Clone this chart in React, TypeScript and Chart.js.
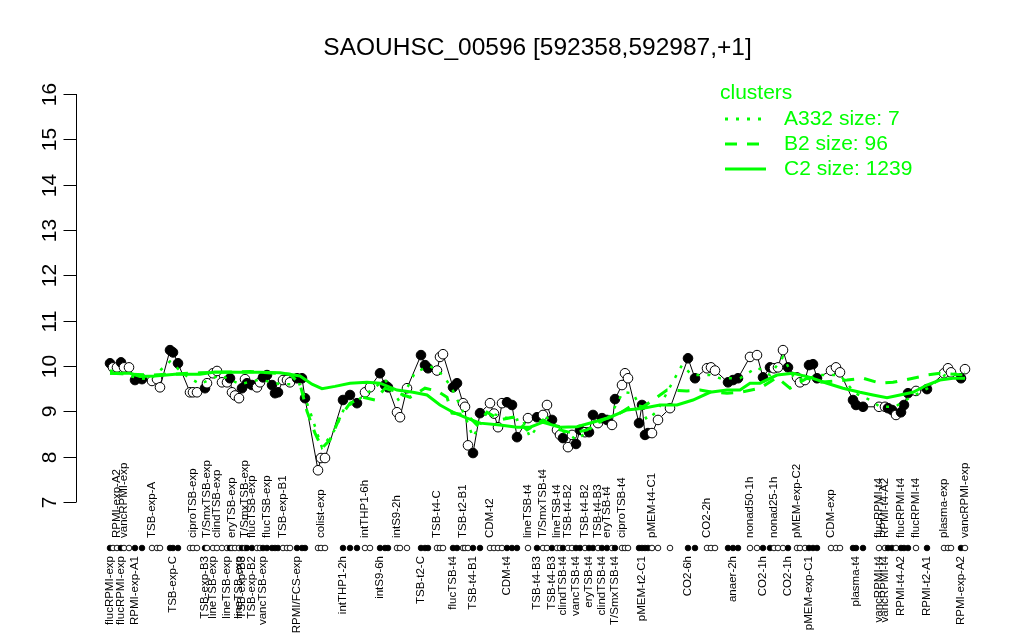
import React, { useEffect, useRef } from 'react';
import { Chart, registerables } from 'chart.js';

Chart.register(...registerables);

const TITLE = 'SAOUHSC_00596 [592358,592987,+1]';
const FONT = '"Liberation Sans", Arial, Helvetica, sans-serif';
const GREEN = '#00ff00';

// sample order (position along the x axis), grouped by condition
const positions: number[] = [
  10, 13, 17, 21, 24, 29, 35, 42,
  52, 57, 60,
  70, 73, 78,
  90, 93, 97,
  105, 107, 113, 117, 122, 127, 130, 132, 135, 139, 142, 145, 147, 152, 157, 160, 163, 167, 172, 175, 178, 183, 187, 190,
  197, 202, 205,
  218, 221, 225,
  243, 250, 257,
  265, 270,
  280, 285, 288,
  297, 300, 307,
  321, 325, 328,
  337, 340, 343,
  353, 357, 363, 365, 368, 373, 380,
  390, 394, 398, 402, 407, 412, 417,
  428, 437, 443, 447, 452, 457, 460, 463, 468, 472, 476, 480, 485, 489, 493, 498, 502, 507, 512, 515, 522, 525, 528,
  539, 542, 545, 548, 552, 558, 570,
  588, 595,
  607, 611, 615,
  628, 633, 638,
  650, 657,
  663, 670, 674, 678, 683, 688,
  697, 700, 705, 709, 713, 717,
  731, 736, 740,
  753, 756, 763,
  779, 785, 788, 792, 796, 801, 804, 808, 816,
  827,
  844, 848, 851,
  861, 865,
];

const expression: number[] = [
  10.06, 9.97, 9.97, 10.08, 9.97, 9.97, 9.69, 9.71,
  9.67, 9.71, 9.53,
  10.35, 10.3, 10.06,
  9.42, 9.42, 9.42,
  9.51, 9.62, 9.84, 9.89, 9.64, 9.64, 9.73, 9.42, 9.35, 9.29, 9.51, 9.71, 9.62, 9.58, 9.53, 9.64, 9.75, 9.8, 9.58, 9.4, 9.42, 9.69, 9.69, 9.64,
  9.73, 9.73, 9.29,
  7.7, 7.97, 7.97,
  9.25, 9.36, 9.18,
  9.42, 9.53,
  9.84, 9.58, 9.53,
  8.98, 8.87, 9.51,
  10.24, 10.02, 9.95,
  9.9, 10.2, 10.26,
  9.53, 9.62, 9.18, 9.1, 8.25, 8.08, 8.96,
  9.18, 8.95, 8.65, 9.18, 9.2, 9.14, 8.43,
  8.85, 8.87, 8.92, 9.14, 8.81, 8.59, 8.48, 8.41, 8.21, 8.48, 8.28, 8.59, 8.54, 8.54, 8.92, 8.74, 8.85, 8.81, 8.7, 9.27, 9.58, 9.84, 9.73,
  8.74, 9.14, 8.48, 8.52, 8.52, 8.81, 9.07,
  10.17, 9.73,
  9.95, 9.97, 9.9,
  9.64, 9.69, 9.73,
  10.2, 10.24,
  9.75, 9.97, 9.95, 9.97, 10.35, 9.97,
  9.75, 9.64, 9.69, 10.02, 10.04, 9.73,
  9.9, 9.97, 9.86,
  9.25, 9.14, 9.1,
  9.1, 9.1, 9.07, 9.03, 8.92, 8.98, 9.14, 9.4, 9.45,
  9.49,
  9.84, 9.95, 9.86,
  9.73, 9.93,
];

const filled: number[] = [
  1, 0, 0, 1, 0, 0, 1, 1,
  0, 0, 0,
  1, 1, 1,
  0, 0, 0,
  1, 0, 0, 0, 0, 0, 1, 0, 0, 0, 1, 0, 1, 1, 0, 0, 1, 1, 1, 1, 1, 0, 0, 0,
  1, 1, 1,
  0, 0, 0,
  1, 1, 1,
  0, 0,
  1, 1, 1,
  0, 0, 0,
  1, 1, 1,
  0, 0, 0,
  1, 1, 0, 0, 0, 1, 1,
  0, 0, 0, 0, 1, 1, 1,
  0, 1, 0, 0, 1, 0, 0, 1, 0, 0, 1, 1, 0, 1, 1, 0, 1, 1, 0, 1, 0, 0, 0,
  1, 1, 1, 1, 0, 0, 0,
  1, 1,
  0, 0, 0,
  1, 1, 1,
  0, 0,
  1, 1, 0, 0, 0, 1,
  0, 0, 0, 1, 1, 1,
  0, 0, 0,
  1, 1, 1,
  0, 0, 1, 1, 0, 1, 1, 1, 0,
  1,
  0, 0, 0,
  1, 0,
];

const topLabels: string[] = [
  '', '', 'RPMI-exp-A2', '', 'vancRPMI-exp', '', '', '',
  'TSB-exp-A', '', '',
  '', '', '',
  '', 'ciproTSB-exp', '',
  '', 'T/SmxTSB-exp', '', 'clindTSB-exp', '', '', '', 'eryTSB-exp', '', '', '', 'T/SmxTSB-exp', '', 'flucTSB-exp', '', '', '', 'flucTSB-exp', '', '', '', 'TSB-exp-B1', '', '',
  '', '', '',
  '', 'colist-exp', '',
  '', '', '',
  'intTHP1-6h', '',
  '', '', '',
  'intS9-2h', '', '',
  '', '', '',
  'TSB-t4-C', '', '',
  '', '', 'TSB-t2-B1', '', '', '', '',
  'CDM-t2', '', '', '', '', '', '',
  'lineTSB-t4', '', 'T/SmxTSB-t4', '', '', 'lineTSB-t4', '', '', 'TSB-t4-B2', '', '', '', 'TSB-t4-B2', '', '', 'TSB-t4-B3', '', 'eryTSB-t4', '', '', 'ciproTSB-t4', '', '',
  '', '', '', '', 'pMEM-t4-C1', '', '',
  '', '',
  'CO2-2h', '', '',
  '', '', '',
  'nonad50-1h', '',
  '', '', 'nonad25-1h', '', '', '',
  'pMEM-exp-C2', '', '', '', '', '',
  'CDM-exp', '', '',
  '', '', '',
  'flucRPMI-t4', 'RPMI-t4-A2', '', '', '', 'flucRPMI-t4', '', '', 'flucRPMI-t4',
  '',
  'plasma-exp', '', '',
  '', 'vancRPMI-exp',
];

const bottomLabels: string[] = [
  'flucRPMI-exp', '', '', 'flucRPMI-exp', '', '', 'RPMI-exp-A1', '',
  '', '', '',
  '', 'TSB-exp-C', '',
  '', '', '',
  'TSB-exp-B3', '', 'lineTSB-exp', '', '', 'lineTSB-exp', '', '', '', 'lineTSB-exp', 'TSB-exp-B3', '', '', 'TSB-exp-B2', '', '', 'vancTSB-exp', '', '', '', '', '', '', '',
  'RPMI/FCS-exp', '', '',
  '', '', '',
  'intTHP1-2h', '', '',
  '', '',
  'intS9-6h', '', '',
  '', '', '',
  'TSB-t2-C', '', '',
  '', '', '',
  'flucTSB-t4', '', '', '', '', 'TSB-t4-B1', '',
  '', '', '', '', 'CDM-t4', '', '',
  '', 'TSB-t4-B3', '', '', 'TSB-t4-B3', '', '', 'clindTSB-t4', '', '', 'vancTSB-t4', '', '', 'eryTSB-t4', '', '', 'clindTSB-t4', '', '', 'T/SmxTSB-t4', '', '', '',
  '', 'pMEM-t2-C1', '', '', '', '', '',
  'CO2-6h', '',
  '', '', '',
  '', 'anaer-2h', '',
  '', '',
  'CO2-1h', '', '', '', '', 'CO2-1h',
  '', '', '', 'pMEM-exp-C1', '', '',
  '', '', '',
  '', 'plasma-t4', '',
  'vancRPMI-t4', 'vancRPMI-t4', '', '', '', 'RPMI-t4-A2', '', '', '',
  'RPMI-t2-A1',
  '', '', '',
  'RPMI-exp-A2', '',
];

// cluster mean profiles
const a332Pos: number[] = [10, 35, 50, 70, 85, 100, 120, 140, 160, 180, 200, 210, 222, 235, 245, 255, 270, 285, 300, 315, 330, 343, 352, 365, 373, 387, 400, 415, 422, 430, 445, 460, 477, 495, 510, 523, 533, 547, 557, 572, 582, 592, 610, 620, 640, 657, 670, 683, 695, 708, 720, 740, 755, 770, 780, 795, 810, 827, 845, 865];
const a332Val: number[] = [9.9, 9.75, 9.7, 10.1, 9.8, 9.6, 9.8, 9.6, 9.7, 9.6, 9.6, 9.0, 8.2, 8.6, 9.1, 9.2, 9.45, 9.7, 9.2, 9.86, 10.0, 9.8, 9.5, 8.9, 8.43, 8.98, 8.9, 8.8, 8.85, 8.43, 8.9, 8.6, 8.37, 8.7, 8.9, 9.42, 9.4, 8.81, 9.0, 9.62, 10.02, 9.8, 9.8, 9.73, 9.73, 9.97, 9.8, 10.2, 9.7, 9.73, 9.8, 9.8, 9.4, 9.25, 9.1, 9.1, 9.3, 9.5, 9.8, 9.85];

const b2Pos: number[] = [10, 50, 100, 150, 190, 200, 207, 215, 222, 230, 240, 250, 263, 275, 285, 310, 325, 337, 347, 352, 367, 377, 387, 400, 413, 427, 443, 460, 473, 487, 503, 517, 533, 543, 553, 567, 587, 600, 613, 627, 640, 660, 677, 690, 707, 720, 747, 763, 780, 793, 813, 827, 840, 865];
const b2Val: number[] = [9.84, 9.8, 9.85, 9.88, 9.82, 9.6, 9.0, 8.52, 8.19, 8.37, 8.87, 9.18, 9.31, 9.25, 9.51, 9.31, 9.51, 9.45, 9.31, 8.96, 8.92, 8.7, 8.98, 8.81, 8.87, 8.59, 8.81, 8.59, 8.52, 8.59, 8.81, 8.92, 9.14, 9.1, 9.25, 9.47, 9.45, 9.47, 9.42, 9.4, 9.42, 9.51, 9.75, 9.51, 9.73, 9.64, 9.69, 9.73, 9.62, 9.64, 9.73, 9.8, 9.84, 9.8];

const c2Pos: number[] = [10, 30, 40, 55, 75, 100, 115, 140, 160, 180, 200, 212, 222, 235, 250, 267, 280, 297, 313, 327, 340, 353, 367, 380, 400, 417, 430, 443, 460, 477, 493, 510, 527, 543, 560, 577, 593, 610, 627, 640, 650, 660, 677, 693, 710, 727, 743, 760, 773, 787, 800, 813, 827, 840, 853, 865];
const c2Val: number[] = [9.84, 9.84, 9.77, 9.78, 9.82, 9.82, 9.87, 9.86, 9.86, 9.85, 9.78, 9.6, 9.5, 9.55, 9.62, 9.64, 9.62, 9.47, 9.42, 9.36, 9.14, 8.98, 8.85, 8.74, 8.7, 8.65, 8.65, 8.76, 8.65, 8.66, 8.76, 8.87, 9.03, 9.07, 9.14, 9.14, 9.25, 9.42, 9.47, 9.47, 9.62, 9.62, 9.8, 9.84, 9.75, 9.62, 9.51, 9.42, 9.36, 9.3, 9.36, 9.42, 9.58, 9.69, 9.73, 9.73];

const yTicks: number[] = [7, 8, 9, 10, 11, 12, 13, 14, 15, 16];

const legendItems = [
  { label: 'A332 size: 7', dash: [3, 8] },
  { label: 'B2 size: 96', dash: [12, 10] },
  { label: 'C2 size: 1239', dash: [] as number[] },
];

const overlayPlugin = {
  id: 'overlay',
  afterDraw(chart: any) {
    const ctx: CanvasRenderingContext2D = chart.ctx;
    const xs = chart.scales.x;
    const ys = chart.scales.y;
    const area = chart.chartArea;
    ctx.save();

    // title
    ctx.fillStyle = '#000';
    ctx.font = `24.5px ${FONT}`;
    ctx.textAlign = 'center';
    ctx.textBaseline = 'middle';
    ctx.fillText(TITLE, (area.left + area.right) / 2, 48);

    // y axis
    const ax = Math.round(area.left) + 0.5;
    ctx.strokeStyle = '#000';
    ctx.lineWidth = 1;
    ctx.beginPath();
    ctx.moveTo(ax, ys.getPixelForValue(yTicks[0]));
    ctx.lineTo(ax, ys.getPixelForValue(yTicks[yTicks.length - 1]));
    ctx.stroke();
    ctx.font = `21px ${FONT}`;
    yTicks.forEach((t) => {
      const py = Math.round(ys.getPixelForValue(t)) + 0.5;
      ctx.beginPath();
      ctx.moveTo(ax - 13, py);
      ctx.lineTo(ax, py);
      ctx.stroke();
      ctx.save();
      ctx.translate(ax - 26, py);
      ctx.rotate(-Math.PI / 2);
      ctx.textAlign = 'center';
      ctx.textBaseline = 'middle';
      ctx.fillText(String(t), 0, 0);
      ctx.restore();
    });

    // rug of samples and their labels
    const rugY = area.bottom + 46;
    positions.forEach((p, i) => {
      const px = xs.getPixelForValue(p);
      ctx.beginPath();
      ctx.arc(px, rugY, 2.8, 0, Math.PI * 2);
      ctx.fillStyle = filled[i] ? '#000' : '#fff';
      ctx.fill();
      ctx.lineWidth = 0.9;
      ctx.strokeStyle = '#000';
      ctx.stroke();
    });
    ctx.fillStyle = '#000';
    ctx.font = `11.5px ${FONT}`;
    positions.forEach((p, i) => {
      const px = xs.getPixelForValue(p);
      if (topLabels[i]) {
        ctx.save();
        ctx.translate(px, area.bottom + 36);
        ctx.rotate(-Math.PI / 2);
        ctx.textAlign = 'left';
        ctx.textBaseline = 'middle';
        ctx.fillText(topLabels[i], 0, 0);
        ctx.restore();
      }
      if (bottomLabels[i]) {
        ctx.save();
        ctx.translate(px, area.bottom + 54);
        ctx.rotate(-Math.PI / 2);
        ctx.textAlign = 'right';
        ctx.textBaseline = 'middle';
        ctx.fillText(bottomLabels[i], 0, 0);
        ctx.restore();
      }
    });

    // legend
    ctx.fillStyle = GREEN;
    ctx.strokeStyle = GREEN;
    ctx.font = `21px ${FONT}`;
    ctx.textAlign = 'left';
    ctx.textBaseline = 'middle';
    ctx.fillText('clusters', 720, 93);
    legendItems.forEach((it, k) => {
      const ly = 119 + k * 25;
      ctx.beginPath();
      ctx.lineWidth = 3;
      ctx.setLineDash(it.dash);
      ctx.moveTo(725, ly);
      ctx.lineTo(766, ly);
      ctx.stroke();
      ctx.setLineDash([]);
      ctx.fillText(it.label, 784, ly);
    });

    ctx.restore();
  },
};

export default function App() {
  const ref = useRef<HTMLCanvasElement | null>(null);
  useEffect(() => {
    if (!ref.current) return;
    const mk = (xsArr: number[], ysArr: number[]) => xsArr.map((x, i) => ({ x, y: ysArr[i] }));
    const chart = new Chart(ref.current, {
      type: 'line',
      data: {
        datasets: [
          {
            label: 'A332',
            data: mk(a332Pos, a332Val),
            borderColor: GREEN,
            borderWidth: 2.5,
            borderDash: [3, 8],
            pointRadius: 0,
            fill: false,
            order: 0,
          },
          {
            label: 'B2',
            data: mk(b2Pos, b2Val),
            borderColor: GREEN,
            borderWidth: 3,
            borderDash: [12, 10],
            pointRadius: 0,
            fill: false,
            order: 0,
          },
          {
            label: 'C2',
            data: mk(c2Pos, c2Val),
            borderColor: GREEN,
            borderWidth: 3,
            pointRadius: 0,
            fill: false,
            order: 0,
          },
          {
            label: 'expression',
            data: mk(positions, expression),
            borderColor: '#000',
            borderWidth: 1,
            pointRadius: 4.8,
            pointBorderWidth: 1,
            pointBorderColor: '#000',
            pointBackgroundColor: filled.map((f) => (f ? '#000' : '#fff')),
            fill: false,
            order: 1,
          },
        ] as any,
      },
      options: {
        animation: false,
        responsive: false,
        devicePixelRatio: 1,
        layout: { padding: { left: 76, right: 25, top: 94, bottom: 138 } },
        scales: {
          x: { type: 'linear', min: -24, max: 899, display: false },
          y: { type: 'linear', min: 7, max: 16, display: false },
        },
        plugins: {
          legend: { display: false },
          title: { display: false },
          tooltip: { enabled: false },
        },
        elements: { line: { tension: 0 } },
        datasets: { line: { clip: false } as any },
      } as any,
      plugins: [overlayPlugin],
    });
    return () => chart.destroy();
  }, []);
  return (
    <div style={{ position: 'absolute', left: 0, top: 0, width: 1024, height: 640, background: '#fff' }}>
      <canvas ref={ref} width={1024} height={640} style={{ width: 1024, height: 640, display: 'block' }} />
    </div>
  );
}
